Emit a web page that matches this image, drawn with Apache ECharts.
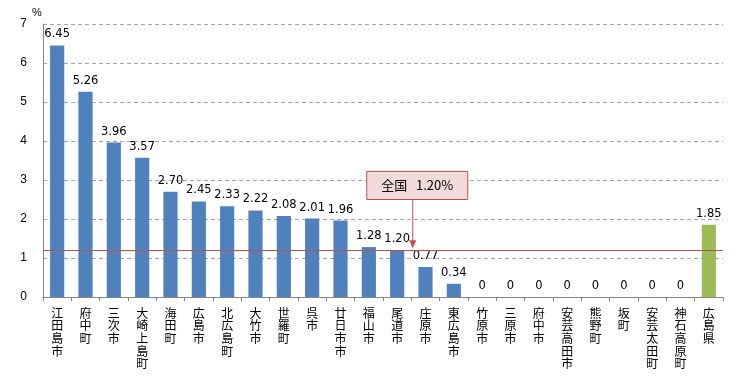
<!DOCTYPE html>
<html><head><meta charset="utf-8">
<script src="https://cdn.jsdelivr.net/npm/echarts@6/dist/echarts.min.js"></script>
<style>html,body{margin:0;padding:0;background:#fff}#c{width:756px;height:379px}</style>
</head><body><div id="c"></div>
<script>
const categories = ['江田島市','府中町','三次市','大崎上島町','海田町','広島市','北広島町','大竹市','世羅町','呉市','廿日市市','福山市','尾道市','庄原市','東広島市','竹原市','三原市','府中市','安芸高田市','熊野町','坂町','安芸太田町','神石高原町','広島県'];
const values = [6.45,5.26,3.96,3.57,2.70,2.45,2.33,2.22,2.08,2.01,1.96,1.28,1.20,0.77,0.34,0,0,0,0,0,0,0,0,1.85];
const yTicks = [0,1,2,3,4,5,6,7];
const nationalName = '全国';
const nationalValue = 1.20;
const prefName = '広島県';

const chart = echarts.init(document.getElementById('c'));
const option = {
  animation: false,
  backgroundColor: '#fff',
  grid: {left: 43, right: 33, top: 24, bottom: 82},
  xAxis: {
    type: 'category', data: categories,
    axisLine: {lineStyle: {color: '#868686'}},
    axisTick: {show: true, length: 4, lineStyle: {color: '#868686'}},
    axisLabel: {
      interval: 0, margin: 10, color: '#000', fontSize: 12, lineHeight: 12.6,
      fontFamily: 'Noto Sans CJK JP', verticalAlign: 'top',
      formatter: v => v.split('').join('\n')
    }
  },
  yAxis: {
    type: 'value', min: yTicks[0], max: yTicks[yTicks.length-1], interval: 1,
    name: '%', nameLocation: 'end', nameGap: 4,
    nameTextStyle: {color: '#000', fontSize: 11, padding: [0, 12, 0, 0], fontFamily: 'Liberation Sans'},
    axisLine: {show: true, lineStyle: {color: '#868686'}},
    axisTick: {show: false},
    axisLabel: {color: '#000', fontSize: 12, margin: 16, fontFamily: 'Liberation Sans'},
    splitLine: {lineStyle: {color: '#a6a6a6', type: [4, 3]}}
  },
  series: [{
    type: 'bar', data: values, barWidth: '50%',
    itemStyle: {color: p => p.name === prefName ? '#9bbb59' : '#4f81bd'},
    label: {
      show: true, position: 'top', distance: 5, color: '#000', fontSize: 11.5,
      fontFamily: 'DejaVu Sans',
      formatter: p => p.value === 0 ? '0' : p.value.toFixed(2)
    },
    markLine: {
      silent: true, symbol: 'none', label: {show: false},
      lineStyle: {color: '#c0504d', width: 1.2, type: 'solid'},
      data: [{yAxis: nationalValue}]
    }
  }]
};
chart.setOption(option);

function drawCallout() {
  const c12 = chart.convertToPixel({xAxisIndex: 0}, 12);
  const c13 = chart.convertToPixel({xAxisIndex: 0}, 13);
  const ax = c12 + (c13 - c12) * 0.55;
  const lineY = chart.convertToPixel({yAxisIndex: 0}, nationalValue);
  const boxTop = chart.convertToPixel({yAxisIndex: 0}, 3.22);
  const boxBot = chart.convertToPixel({yAxisIndex: 0}, 2.5);
  const bw = 101, bh = boxBot - boxTop;
  const bx = ax - 46;
  chart.setOption({
    graphic: [
      {type: 'line', shape: {x1: ax, y1: boxBot, x2: ax, y2: lineY - 4}, style: {stroke: '#c0504d', lineWidth: 1}, z: 10},
      {type: 'polygon', shape: {points: [[ax - 3.5, lineY - 10], [ax + 3.5, lineY - 10], [ax, lineY - 2]]}, style: {fill: '#c0504d'}, z: 10},
      {type: 'rect', shape: {x: bx, y: boxTop, width: bw, height: bh}, style: {fill: '#f2dcdb', stroke: '#c0504d', lineWidth: 1}, z: 11},
      {type: 'text', x: bx + bw / 2, y: boxTop + bh / 2, z: 12,
       style: {text: nationalName + '   ' + nationalValue.toFixed(2) + '%', fill: '#000', fontSize: 13,
               fontFamily: 'Noto Sans CJK JP', align: 'center', verticalAlign: 'middle'}}
    ]
  });
}
drawCallout();
</script></body></html>
